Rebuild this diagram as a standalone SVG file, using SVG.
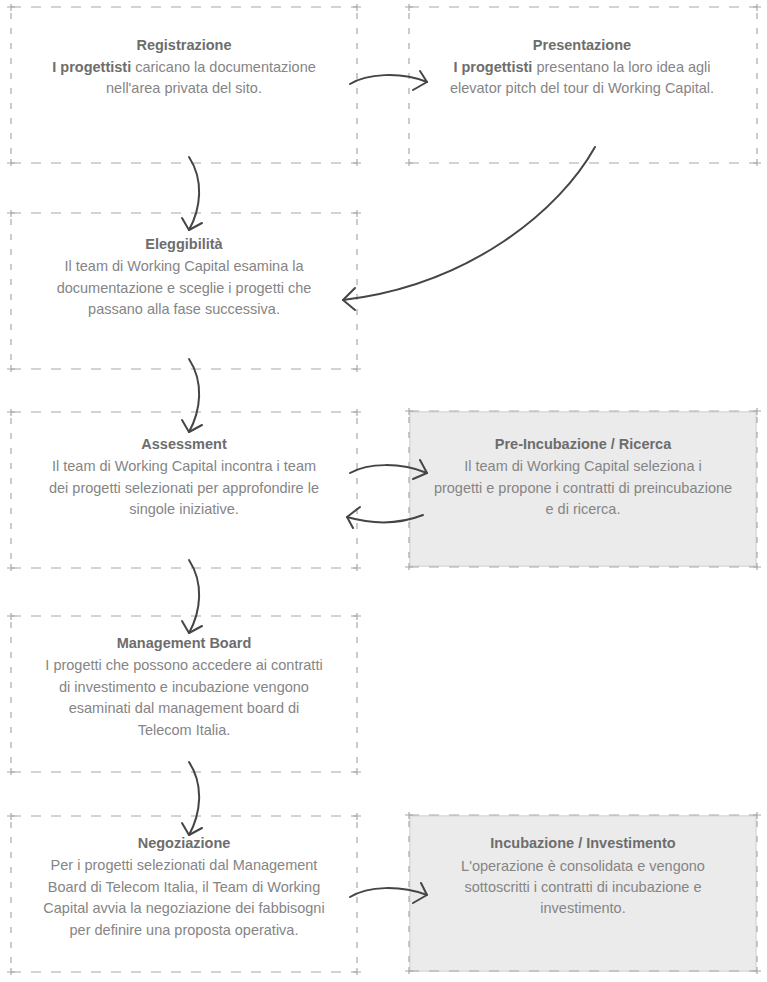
<svg xmlns="http://www.w3.org/2000/svg" width="767" height="982" viewBox="0 0 767 982">
<style>
.bg{fill:#ffffff}
.hl{fill:none;stroke:#a8a8a8;stroke-width:1.2;stroke-dasharray:10 10}
.vl{fill:none;stroke:#a8a8a8;stroke-width:1.2;stroke-dasharray:6 9}
.cr{fill:none;stroke:#a8a8a8;stroke-width:1.2}
.fill{fill:#ebebeb;stroke:#e0e0e0;stroke-width:2}
.t{font-family:"Liberation Sans",Arial,sans-serif;font-size:14.5px;text-anchor:middle;fill:#858585}
.h{font-weight:bold;fill:#6d6d6d}
.arr{fill:none;stroke:#454545;stroke-width:2;stroke-linecap:round;stroke-linejoin:round}
</style>
<defs>
<g id="boxL">
<path class="hl" d="M11 0 H357 M11 156 H357"/>
<path class="vl" d="M11 6 V150 M357 6 V150"/>
<path class="cr" d="M7 0 H15 M11 -3 V4 M353 0 H361 M357 -3 V4 M7 156 H15 M11 152 V159 M353 156 H361 M357 152 V159"/>
</g>
<g id="boxR">
<path class="hl" d="M409 0 H757 M409 156 H757"/>
<path class="vl" d="M409 6 V150 M757 6 V150"/>
<path class="cr" d="M405 0 H413 M409 -3 V4 M753 0 H761 M757 -3 V4 M405 156 H413 M409 152 V159 M753 156 H761 M757 152 V159"/>
</g>
<g id="vArrow">
<path d="M189 157 C204 180 201 208 189 230"/>
<path d="M182 218 L189 230 L202 223"/>
</g>
</defs>
<rect class="bg" x="0" y="0" width="767" height="982"/>

<g id="registrazione">
<use href="#boxL" y="7"/>
<text class="t" x="184" y="50"><tspan class="h">Registrazione</tspan></text>
<text class="t" x="184" y="72"><tspan class="h">I progettisti</tspan> caricano la documentazione</text>
<text class="t" x="184" y="93">nell'area privata del sito.</text>
</g>

<g id="presentazione">
<use href="#boxR" y="7"/>
<text class="t" x="582" y="50"><tspan class="h">Presentazione</tspan></text>
<text class="t" x="582" y="72"><tspan class="h">I progettisti</tspan> presentano la loro idea agli</text>
<text class="t" x="582" y="93">elevator pitch del tour di Working Capital.</text>
</g>

<g id="eleggibilita">
<use href="#boxL" y="213"/>
<text class="t" x="184" y="249"><tspan class="h">Eleggibilità</tspan></text>
<text class="t" x="184" y="271">Il team di Working Capital esamina la</text>
<text class="t" x="184" y="293">documentazione e sceglie i progetti che</text>
<text class="t" x="184" y="314">passano alla fase successiva.</text>
</g>

<g id="assessment">
<use href="#boxL" y="412"/>
<text class="t" x="184" y="449"><tspan class="h">Assessment</tspan></text>
<text class="t" x="184" y="471">Il team di Working Capital incontra i team</text>
<text class="t" x="184" y="493">dei progetti selezionati per approfondire le</text>
<text class="t" x="184" y="514">singole iniziative.</text>
</g>

<g id="preincubazione">
<rect class="fill" x="410" y="412" width="346" height="154"/>
<use href="#boxR" y="411"/>
<text class="t" x="583" y="449"><tspan class="h">Pre-Incubazione / Ricerca</tspan></text>
<text class="t" x="583" y="471">Il team di Working Capital seleziona i</text>
<text class="t" x="583" y="493">progetti e propone i contratti di preincubazione</text>
<text class="t" x="583" y="514">e di ricerca.</text>
</g>

<g id="management">
<use href="#boxL" y="616"/>
<text class="t" x="184" y="648"><tspan class="h">Management Board</tspan></text>
<text class="t" x="184" y="670">I progetti che possono accedere ai contratti</text>
<text class="t" x="184" y="692">di investimento e incubazione vengono</text>
<text class="t" x="184" y="713">esaminati dal management board di</text>
<text class="t" x="184" y="735">Telecom Italia.</text>
</g>

<g id="negoziazione">
<use href="#boxL" y="816"/>
<text class="t" x="184" y="848"><tspan class="h">Negoziazione</tspan></text>
<text class="t" x="184" y="870">Per i progetti selezionati dal Management</text>
<text class="t" x="184" y="892">Board di Telecom Italia, il Team di Working</text>
<text class="t" x="184" y="913">Capital avvia la negoziazione dei fabbisogni</text>
<text class="t" x="184" y="935">per definire una proposta operativa.</text>
</g>

<g id="incubazione">
<rect class="fill" x="410" y="816" width="346" height="155"/>
<use href="#boxR" y="815"/>
<text class="t" x="583" y="848"><tspan class="h">Incubazione / Investimento</tspan></text>
<text class="t" x="583" y="871">L'operazione è consolidata e vengono</text>
<text class="t" x="583" y="892">sottoscritti i contratti di incubazione e</text>
<text class="t" x="583" y="913">investimento.</text>
</g>

<g id="connectors" class="arr">
<path d="M350 84 C366 74 400 71 427 82"/>
<path d="M420 71 L427 82 L413 90"/>
<use href="#vArrow"/>
<path d="M595 147 C560 210 470 285 343 300"/>
<path d="M355 288 L343 300 L355 310"/>
<use href="#vArrow" y="202"/>
<path d="M350 473 C368 463 400 462 427 473"/>
<path d="M420 460 L427 473 L413 479"/>
<path d="M423 515 C400 524 375 525 347 517"/>
<path d="M360 507 L347 517 L353 528"/>
<use href="#vArrow" y="403"/>
<use href="#vArrow" y="605"/>
<path d="M350 897 C368 886 400 885 427 895"/>
<path d="M421 883 L427 895 L413 903"/>
</g>
</svg>
